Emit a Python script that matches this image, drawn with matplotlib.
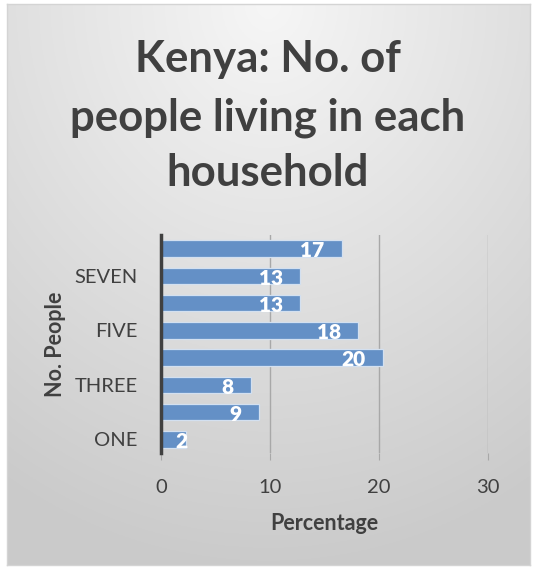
"""
Kenya household size chart: share of households by number of occupants
"""
import numpy as np
import matplotlib
matplotlib.use("Agg")
import matplotlib.pyplot as plt

plt.rcParams['font.family'] = ['Lato', 'DejaVu Sans']

categories = ['ONE', 'TWO', 'THREE', 'FOUR', 'FIVE', 'SIX', 'SEVEN', 'EIGHT+']
percentages = [2.3, 9.0, 8.3, 20.4, 18.1, 12.8, 12.8, 16.6]
x_ticks = [0, 10, 20, 30]

title_lines = ['Kenya: No. of', 'people living in each', 'household']
text_col = '#404040'
bar_col = '#6490c6'

W, H = 534, 569
fig = plt.figure(figsize=(W / 100, H / 100), dpi=100)

# chart area background: soft radial gradient, light at the top centre
bg = fig.add_axes([7 / W, 4 / H, 523 / W, 561 / H], zorder=-5)
gx, gy = np.meshgrid(np.linspace(0, 1, 300), np.linspace(0, 1, 300))
dist = np.sqrt(((gx - 0.5) / 0.95) ** 2 + gy ** 2)
shade = 0.965 - 0.17 * np.clip(dist, 0, 1)
bg.imshow(np.dstack([shade] * 3), aspect='auto', extent=(0, 1, 1, 0))
bg.set_xticks([]); bg.set_yticks([])
for s in bg.spines.values():
    s.set_color('#d4d4d4')
    s.set_linewidth(1)

ax = fig.add_axes([161 / W, 1 - 453 / H, (487.7 - 161) / W, (453 - 235) / H])
ax.set_facecolor('none')

pos = np.arange(len(categories))
ax.barh(pos, percentages, height=0.6, color=bar_col, edgecolor='#d3e0f0',
        linewidth=0.9, zorder=3)

for p, v in zip(pos, percentages):
    # labels sit just inside the bar end; tiny bars get them past the end
    xr = v - 1.6 if v > 4 else v + 0.1
    ax.text(xr, p - 0.08, f'{v:.0f}', ha='right', va='center', color='white',
            fontsize=15, fontweight='heavy', zorder=4)

ax.set_xlim(0, 30)
ax.set_ylim(-0.5, len(categories) - 0.5)
ax.set_xticks(x_ticks)
ax.set_xticklabels([str(t) for t in x_ticks])
ax.set_yticks(pos[::2])
ax.set_yticklabels(categories[::2])
ax.xaxis.grid(True, color='#a8a8a8', linewidth=1, zorder=0)
ax.tick_params(axis='x', length=5, color='#a8a8a8', pad=14,
               labelsize=14.5, labelcolor=text_col)
ax.tick_params(axis='y', length=0, pad=17, labelsize=14.5, labelcolor=text_col)
for side in ['top', 'right', 'bottom']:
    ax.spines[side].set_visible(False)
ax.spines['left'].set_color(text_col)
ax.spines['left'].set_linewidth(2.5)
ax.spines['left'].set_zorder(5)

# three title lines placed on their own baselines
for line, base in zip(title_lines, [72, 130, 186]):
    fig.text(268 / W, 1 - base / H, line, ha='center', va='baseline',
             fontsize=31.5, fontweight='bold', color=text_col)
fig.text(324 / W, 1 - 523 / H, 'Percentage', ha='center', va='center',
         fontsize=15.5, fontweight='bold', color=text_col)
fig.text(55 / W, 1 - 344 / H, 'No. People', ha='center', va='center',
         rotation=90, fontsize=15.5, fontweight='bold', color=text_col)

fig.savefig('out.png', dpi=100)
